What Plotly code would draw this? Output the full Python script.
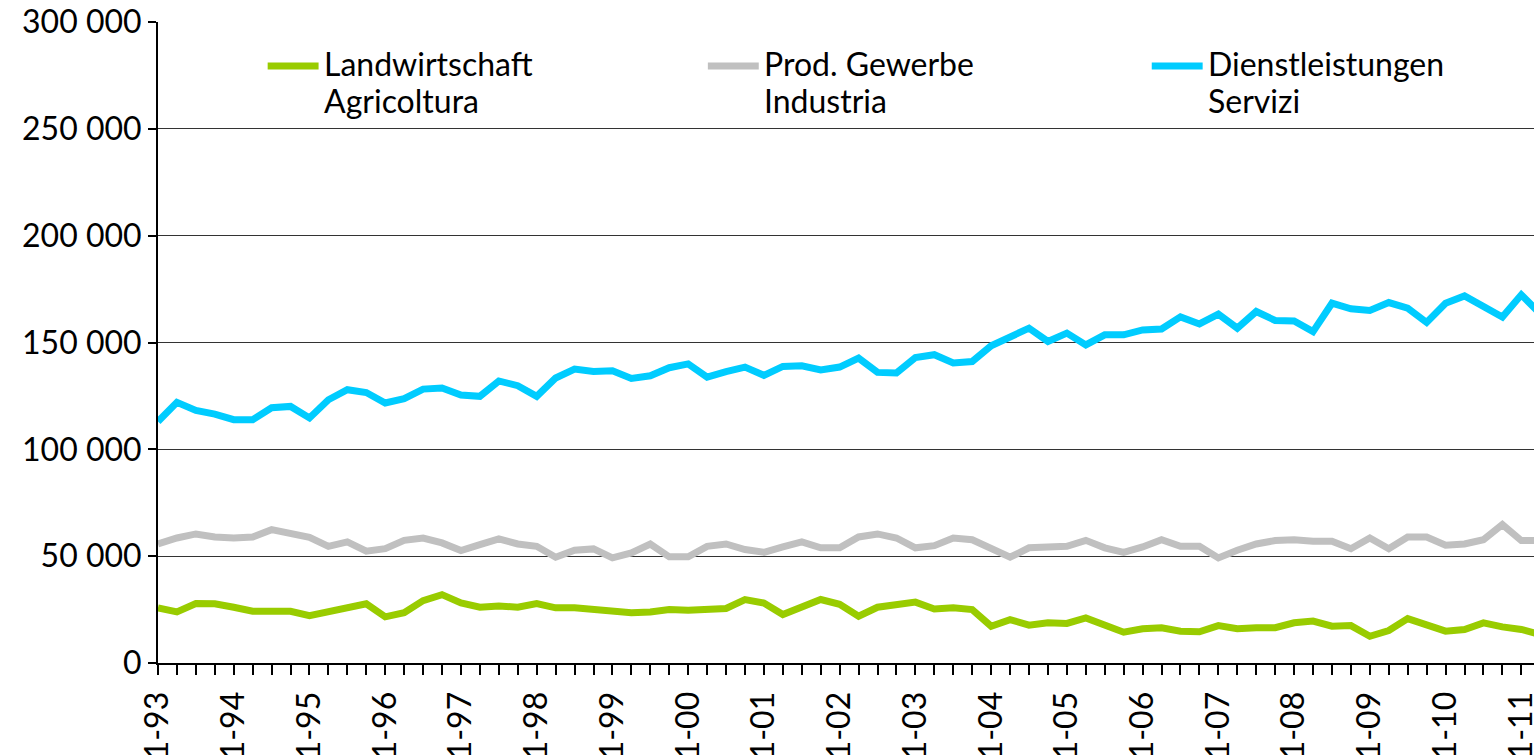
"""Employment by sector, quarterly 1993-2011, line chart."""

import plotly.graph_objects as go


YEAR_LABELS = ["93", "94", "95", "96", "97", "98", "99", "00", "01", "02",
               "03", "04", "05", "06", "07", "08", "09", "10", "11"]

AGRICULTURE = [
    25800, 23900, 27800, 27700, 26100, 24200, 24200, 24200, 22200, 23900,
    25800, 27700, 21600, 23500, 29200, 32000, 28100, 26100, 26700, 26100,
    27800, 25800, 25800, 25300, 24200, 23500, 23900, 25000, 24700, 25000,
    25500, 29700, 28100, 22700, 26600, 29700, 27500, 21900, 26100, 27700,
    28500, 25300, 25800, 25000, 17200, 20300, 17700, 18800, 18500, 21100,
    17700, 14400, 16000, 16500, 14900, 14600, 17500, 16000, 16500, 16500,
    18800, 19600, 17200, 17500, 12500, 15200, 20800, 18000, 14900, 15700,
    18800, 16900, 15700, 13300,
]

INDUSTRY = [
    55700, 58500, 60400, 59000, 58500, 59000, 62400, 60900, 58800, 54600,
    56700, 52300, 53500, 57400, 58500, 56200, 52600, 55400, 58100, 55700,
    54600, 49500, 52800, 53400, 49200, 51500, 55700, 49700, 49700, 54600,
    55700, 53100, 51800, 54300, 56700, 53900, 53900, 59000, 60400, 58500,
    53900, 54900, 58500, 57700, 53900, 49500, 53900, 54600, 54600, 57400,
    53900, 51800, 54300, 57700, 54600, 54600, 49200, 52800, 55700, 57300,
    57700, 57000, 57000, 53500, 58500, 53500, 59000, 59000, 55100, 55700,
    57700, 64800, 57300, 57300,
]

SERVICES = [
    113000, 122000, 118200, 116500, 113900, 113900, 119500, 120100, 114700, 123200,
    127900, 126600, 121700, 123700, 128200, 128700, 125400, 124800, 132000, 129800,
    124800, 133400, 137600, 136400, 136800, 133200, 134400, 138200, 140000, 133800,
    136400, 138500, 134600, 138800, 139100, 137200, 138500, 142700, 136000, 135700,
    143000, 144300, 140400, 141100, 148500, 152500, 156700, 150500, 154400, 148900,
    153600, 153600, 155900, 156300, 162000, 158700, 163300, 156700, 164500, 160300,
    160100, 155100, 168400, 165800, 165000, 168700, 166100, 159400, 168400, 171800,
    167200, 161900, 172300, 163500,
]

NAMES_DE = ["Landwirtschaft", "Prod. Gewerbe", "Dienstleistungen"]
NAMES_IT = ["Agricoltura", "Industria", "Servizi"]
COLORS = ["#99CC00", "#C0C0C0", "#00CCFF"]

FONT = "Lato"
FONT_SIZE = 32

quarters = [f"{q}-{y}" for y in YEAR_LABELS for q in range(1, 5)]
quarters = quarters[:len(SERVICES)]
x = list(range(len(quarters)))
tick_text = [label if label.startswith("1-") else "" for label in quarters]

figure = go.Figure()
for name, values, color in zip(NAMES_DE, [AGRICULTURE, INDUSTRY, SERVICES], COLORS):
    figure.add_trace(go.Scatter(
        x=x, y=values, mode="lines", name=name,
        line=dict(color=color, width=7),
        showlegend=False, hoverinfo="skip",
    ))

# legend drawn by hand: long thick key lines, two-line labels
legend_x = [0.0797, 0.3996, 0.7222]
for name_de, name_it, color, left in zip(NAMES_DE, NAMES_IT, COLORS, legend_x):
    figure.add_shape(
        type="line", xref="paper", yref="paper",
        x0=left, x1=left + 0.037, y0=0.9314, y1=0.9314,
        line=dict(color=color, width=7),
    )
    for text, y in ((name_de, 0.9345), (name_it, 0.8783)):
        figure.add_annotation(
            xref="paper", yref="paper", x=left + 0.0395, y=y,
            xanchor="left", yanchor="middle", align="left",
            text=text, showarrow=False,
            font=dict(family=FONT, size=FONT_SIZE, color="#000000"),
        )

figure.update_layout(
    width=1534, height=755,
    margin=dict(l=158, r=0, t=22, b=92),
    paper_bgcolor="white", plot_bgcolor="white",
    separators=". ",
    font=dict(family=FONT, size=FONT_SIZE, color="#000000"),
    xaxis=dict(
        range=[0, 72.67], tickvals=x, ticktext=tick_text,
        tickangle=-90, ticks="outside", ticklen=10, tickwidth=2,
        tickcolor="#000000", showline=True, linecolor="#000000",
        linewidth=2, showgrid=False, zeroline=False,
        ticklabeloverflow="allow", ticklabelstandoff=4, automargin=False,
    ),
    yaxis=dict(
        range=[0, 300000], dtick=50000, tickformat=",d",
        ticks="outside", ticklen=8, tickwidth=2, tickcolor="#000000",
        showline=True, linecolor="#000000", linewidth=2,
        showgrid=True, gridcolor="#333333", gridwidth=1,
        zeroline=False, automargin=False,
    ),
)

figure.write_html(
    "out.html",
    config={"displayModeBar": False},
    post_script="document.body.style.margin='0px';"
                "document.body.style.overflow='hidden';",
)
